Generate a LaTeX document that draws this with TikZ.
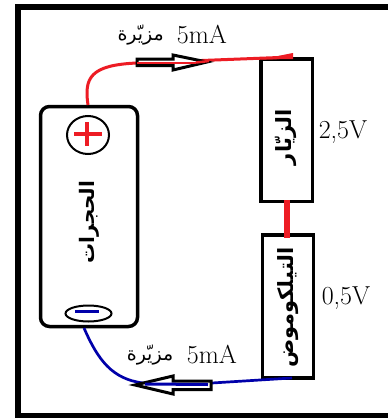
\documentclass[tikz,border=0pt]{standalone}
\usepackage{fontspec}
\usetikzlibrary{shapes.geometric}
\TeXXeTstate=1
\newfontfamily\arabicfont[Script=Arabic]{DejaVu Sans}
\definecolor{wred}{RGB}{237,28,36}
\definecolor{wblue}{RGB}{0,0,170}
\tikzset{x=1pt,y=-1pt,
 box/.style={draw=black,line width=3.5pt,fill=white},
 oval/.style={draw=black,line width=2pt,ellipse,inner sep=0pt},
 hollow/.style={draw=black,line width=3pt,fill=white,line join=miter},
 redw/.style={draw=wred,line width=3pt},
 bluew/.style={draw=wblue,line width=2.7pt},
 lab/.style={inner sep=0pt,font=\fontsize{26}{26}\selectfont},
 arlab/.style={inner sep=0pt,font=\arabicfont\fontsize{19}{19}\selectfont},
 vert/.style={inner sep=0pt,rotate=90,font=\arabicfont\bfseries\fontsize{#1}{#1}\selectfont}}
\begin{document}
\begin{tikzpicture}
\useasboundingbox (0,0) rectangle (388,418);
\fill[white] (0,0) rectangle (388,418);
\draw[line width=6pt,draw=black] (18,418) -- (18,7) -- (388,7);
\draw[line width=5pt,draw=black] (15,415.5) -- (388,415.5);
\node[box,rounded corners=9pt,minimum width=97pt,minimum height=220pt] (batt) at (89,216.5) {};
\node[oval,minimum width=42pt,minimum height=38pt] (plus) at (88,135) {};
\draw[wred,line width=3.5pt] (74,134) -- (102,134) (87,122) -- (87,146);
\node[oval,minimum width=46pt,minimum height=16pt] (minus) at (88.5,313.5) {};
\draw[wblue,line width=3pt] (75,311) -- (99,311);
\node[vert=20] (lb) at (89,222) {\beginR الحجرات\endR};
\node[box,minimum width=51.5pt,minimum height=142.5pt] (res) at (286.7,130.2) {};
\node[vert=21] (lr) at (286,137) {\beginR الزيّار\endR};
\node[box,minimum width=51pt,minimum height=143pt] (tel) at (288,306.5) {};
\node[vert=21] (lt) at (288,307.5) {\beginR التيلكوموض\endR};
\coordinate (rt) at (292,57);
\coordinate (rb) at (287,200);
\coordinate (tt) at (287,238);
\coordinate (tb) at (292,378);
\draw[redw] (88,105) .. controls (84,78) and (90,65) .. (137,63) -- (rt);
\fill[wred] (260,59.5) -- (293,53) -- (293,59) -- cycle;
\draw[wred,line width=5.5pt] (rb) -- (tt);
\draw[bluew] (84,328) .. controls (98,360) and (112,379) .. (143,383) -- (212,383) -- (tb);
\draw[hollow] (137,59) -- (173,59) -- (173,55) -- (207,62) -- (173,70) -- (173,65.5) -- (137,65.5) -- cycle;
\draw[wred,line width=2pt] (137,62.5) -- (196,62.5);
\draw[wred,line width=2.5pt] (196,62.5) -- (209,61);
\draw[hollow] (211,381) -- (173,381) -- (173,376) -- (135,385) -- (173,394) -- (173,389.5) -- (211,389.5) -- cycle;
\draw[wblue,line width=3pt] (145,384) -- (208,384.5);
\node[lab] (c1) at (202,35) {5mA};
\node[arlab] (a1) at (140.7,35) {\beginR مزيّرة\endR};
\node[lab] (c2) at (212,355) {5mA};
\node[arlab] (a2) at (150,355) {\beginR مزيّرة\endR};
\node[lab] (v1) at (343,132) {2,5V};
\node[lab] (v2) at (346,298) {0,5V};
\end{tikzpicture}
\end{document}
